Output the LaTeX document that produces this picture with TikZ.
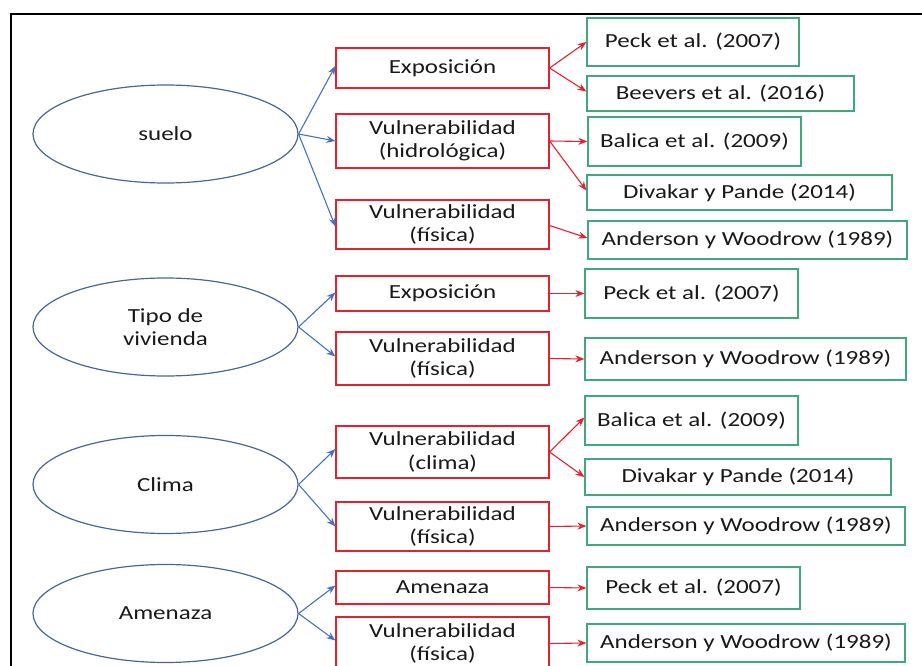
\documentclass[tikz,border=0pt]{standalone}
\usepackage{fontspec}
\setmainfont{Carlito}[FakeStretch=1.25]
\usetikzlibrary{shapes.geometric,arrows.meta}

\definecolor{ovalblue}{HTML}{4A6597}
\definecolor{linkblue}{HTML}{4472C4}
\definecolor{boxred}{HTML}{E3222F}
\definecolor{boxgreen}{HTML}{3FA97C}

\tikzset{
  every node/.style={font=\fontsize{20}{23.5}\selectfont, text=black!90},
  factor/.style={ellipse, draw=ovalblue, line width=1.2pt, minimum width=265pt,
                 minimum height=98pt, inner sep=0pt, align=center},
  aspect/.style={rectangle, draw=boxred, line width=1.2pt, minimum width=213pt,
                 inner sep=0pt, align=center},
  source/.style={rectangle, draw=boxgreen, line width=1.2pt, inner sep=0pt, align=center},
  bluelink/.style={draw=linkblue, line width=1.1pt, -{Stealth[length=9pt,width=7pt]}},
  redlink/.style={draw=boxred, line width=1.1pt, -{Stealth[length=9pt,width=7pt]}},
}

\begin{document}
\begin{tikzpicture}[x=1pt, y=-1pt]
\useasboundingbox (0,0) rectangle (922,666);

% outer frame (top and left edges)
\draw[line width=1.8pt] (922,14) -| (11,666);

% factors
\node[factor] (suelo) at (165.5,134)   {suelo};
\node[factor] (tipo)  at (165.5,327)   {Tipo de\\vivienda};
\node[factor] (clima) at (165.5,484.5) {Clima};
\node[factor] (amen)  at (165.5,613.5) {Amenaza};

% aspects
\node[aspect, minimum height=40pt] (r1) at (442.5,68)    {Exposición};
\node[aspect, minimum height=54pt] (r2) at (442.5,141)   {Vulnerabilidad\\(hidrológica)};
\node[aspect, minimum height=49pt] (r3) at (442.5,224.5) {Vulnerabilidad\\(física)};
\node[aspect, minimum height=35pt] (r4) at (442.5,293.5) {Exposición};
\node[aspect, minimum height=53pt] (r5) at (442.5,358.5) {Vulnerabilidad\\(física)};
\node[aspect, minimum height=52pt] (r6) at (442.5,452)   {Vulnerabilidad\\(clima)};
\node[aspect, minimum height=49pt] (r7) at (442.5,526.5) {Vulnerabilidad\\(física)};
\node[aspect, minimum height=33pt] (r8) at (442.5,587.5) {Amenaza};
\node[aspect, minimum height=53pt] (r9) at (442.5,643.5) {Vulnerabilidad\\(física)};

% sources
\node[source, minimum width=212pt, minimum height=48pt] (g1)  at (693,42)     {Peck et al. (2007)};
\node[source, minimum width=267pt, minimum height=35pt] (g2)  at (720.5,93.5) {Beevers et al. (2016)};
\node[source, minimum width=213pt, minimum height=49pt] (g3)  at (694.5,141.5) {Balica et al. (2009)};
\node[source, minimum width=305pt, minimum height=35pt] (g4)  at (739.5,192.5) {Divakar y Pande (2014)};
\node[source, minimum width=319pt, minimum height=38pt] (g5)  at (747.5,240)  {Anderson y Woodrow (1989)};
\node[source, minimum width=213pt, minimum height=49pt] (g6)  at (691.5,293.5) {Peck et al. (2007)};
\node[source, minimum width=321pt, minimum height=42pt] (g7)  at (745.5,359)  {Anderson y Woodrow (1989)};
\node[source, minimum width=213pt, minimum height=49pt] (g8)  at (691.5,420.5) {Balica et al. (2009)};
\node[source, minimum width=306pt, minimum height=36pt] (g9)  at (738,477)    {Divakar y Pande (2014)};
\node[source, minimum width=318pt, minimum height=38pt] (g10) at (746,526)    {Anderson y Woodrow (1989)};
\node[source, minimum width=213pt, minimum height=42pt] (g11) at (693.5,588)  {Peck et al. (2007)};
\node[source, minimum width=318pt, minimum height=38pt] (g12) at (746,643)    {Anderson y Woodrow (1989)};

% factor -> aspect
\draw[bluelink] (suelo.east) -- ([yshift=2pt]r1.west);
\draw[bluelink] (suelo.east) -- (r2.west);
\draw[bluelink] (suelo.east) -- ([yshift=-2pt]r3.west);
\draw[bluelink] (tipo.east)  -- ([yshift=1pt]r4.west);
\draw[bluelink] (tipo.east)  -- ([yshift=2pt]r5.west);
\draw[bluelink] (clima.east) -- ([yshift=3pt]r6.west);
\draw[bluelink] (clima.east) -- (r7.west);
\draw[bluelink] (amen.east)  -- ([yshift=2pt]r8.west);
\draw[bluelink] (amen.east)  -- ([yshift=3pt]r9.west);

% aspect -> source
\draw[redlink] (r1.east) -- (g1.west);
\draw[redlink] (r1.east) -- ([yshift=2pt]g2.west);
\draw[redlink] (r2.east) -- (g3.west);
\draw[redlink] (r2.east) -- ([yshift=2pt]g4.west);
\draw[redlink] ([yshift=-1pt]r3.east) -- ([yshift=2pt]g5.west);
\draw[redlink] (r4.east) -- (g6.west);
\draw[redlink] (r5.east) -- (g7.west);
\draw[redlink] (r6.east) -- ([yshift=3pt]g8.west);
\draw[redlink] (r6.east) -- (g9.west);
\draw[redlink] (r7.east) -- (g10.west);
\draw[redlink] (r8.east) -- (g11.west);
\draw[redlink] (r9.east) -- (g12.west);
\end{tikzpicture}
\end{document}
